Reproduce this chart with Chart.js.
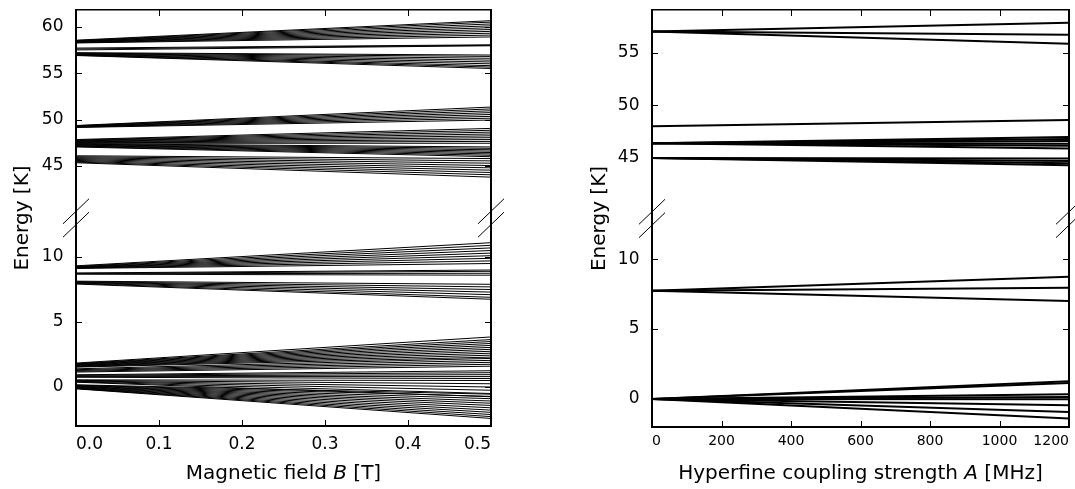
<!DOCTYPE html>
<html lang="en">
<head>
<meta charset="UTF-8">
<title>Energy levels vs magnetic field and hyperfine coupling</title>
<script src="https://cdn.jsdelivr.net/npm/chart.js"></script>
<style>
  html, body { margin: 0; padding: 0; background: #fff; overflow: hidden; }
  .panel { position: absolute; top: 0; height: 489px; }
  #left { left: 0; width: 537px; }
  #right { left: 537px; width: 538px; }
</style>
</head>
<body>
<div class="panel" id="left"><canvas id="fieldChart"></canvas></div>
<div class="panel" id="right"><canvas id="couplingChart"></canvas></div>
<script>
// ---- left panel: levels vs magnetic field B [T] (energy at B = 0 and at B = 0.5) ----
const fieldB = [0, 0.5];
const fieldTicks = [0, 0.1, 0.2, 0.3, 0.4, 0.5];
const fieldUpperTicks = [45, 50, 55, 60];
const fieldLowerTicks = [0, 5, 10];
const fieldUpperRange = [39.4, 61.8];
const fieldLowerRange = [-3, 13];

const fieldUpperStart = [
  58.25, 58.28, 58.31, 58.34, 58.37, 58.4, 58.43, 58.46, 58.5, 58.55,
  57.5, 57.6, 57.7,
  56.9, 56.93, 56.97, 57.0, 57.04, 57.08, 57.12, 57.16, 57.2,
  49.15, 49.18, 49.21, 49.24, 49.27, 49.3, 49.33, 49.36,
  47.45, 47.5, 47.55, 47.6, 47.65, 47.7, 47.75, 47.8, 47.85,
  47.4, 47.35, 47.3, 47.25, 47.2, 47.15, 47.1, 47.05,
  46.1, 46.0, 45.9, 45.8, 45.7, 45.6, 45.5, 45.42, 45.35
];
const fieldUpperEnd = [
  58.9, 59.1, 59.3, 59.5, 59.7, 59.9, 60.1, 60.3, 60.5, 60.65,
  57.95, 58.0, 58.05,
  55.5, 55.65, 55.8, 56.0, 56.2, 56.4, 56.6, 56.8, 56.95,
  49.95, 50.15, 50.35, 50.55, 50.75, 50.95, 51.15, 51.35,
  47.45, 47.65, 47.85, 48.05, 48.25, 48.45, 48.65, 48.85, 49.05,
  47.05, 46.9, 46.75, 46.6, 46.45, 46.3, 46.15, 46.0,
  45.8, 45.55, 45.3, 45.05, 44.8, 44.55, 44.3, 44.05, 43.8
];
const fieldLowerStart = [
  9.12, 9.14, 9.16, 9.18, 9.2, 9.22, 9.25, 9.28, 9.32,
  8.68, 8.71, 8.74, 8.77,
  7.92, 7.96, 8.0, 8.04, 8.07, 8.1, 8.14,
  1.53, 1.56, 1.59, 1.62, 1.65, 1.68, 1.71, 1.74, 1.77, 1.8, 1.84,
  1.15, 1.21, 1.27, 1.33, 1.4,
  0.94, 0.9, 0.85, 0.8, 0.75,
  0.55, 0.51, 0.47, 0.44, 0.4, 0.37,
  0.17, 0.14, 0.11, 0.08, 0.05, 0.02, -0.01, -0.04, -0.07, -0.1, -0.12, -0.14
];
const fieldLowerEnd = [
  9.5, 9.7, 9.9, 10.1, 10.3, 10.5, 10.7, 10.9, 11.1,
  8.6, 8.75, 8.9, 9.0,
  6.75, 6.9, 7.1, 7.3, 7.5, 7.7, 7.9,
  2.3, 2.45, 2.6, 2.75, 2.9, 3.05, 3.2, 3.35, 3.5, 3.65, 3.85,
  1.6, 1.75, 1.9, 2.05, 2.2,
  1.25, 1.1, 0.95, 0.8, 0.65,
  0.5, 0.25, 0.0, -0.25, -0.5, -0.75,
  -0.55, -0.72, -0.9, -1.08, -1.25, -1.42, -1.6, -1.78, -1.95, -2.12, -2.28, -2.42
];

// ---- right panel: levels vs hyperfine coupling A [MHz] (energy at A = 0 and at A = 1200) ----
const couplingA = [0, 1200];
const couplingTicks = [0, 200, 400, 600, 800, 1000, 1200];
const couplingUpperTicks = [45, 50, 55];
const couplingLowerTicks = [0, 5, 10];
const couplingUpperRange = [39.25, 59.05];
const couplingLowerRange = [-2, 12.9];

const couplingUpperStart = [57.0, 57.0, 57.0, 48.0, 46.4, 46.4, 46.4, 46.4, 46.4, 46.4, 45.0, 45.0, 45.0, 45.0];
const couplingUpperEnd   = [57.85, 56.7, 55.85, 48.6, 47.0, 46.8, 46.6, 46.35, 46.15, 45.9, 44.95, 44.7, 44.5, 44.3];
const couplingLowerStart = [7.73, 7.73, 7.73, 0, 0, 0, 0, 0, 0, 0, 0];
const couplingLowerEnd   = [8.74, 7.95, 7.0, 1.27, 1.15, 0.34, 0.15, -0.02, -0.45, -0.93, -1.4];

Chart.defaults.font.family = "'DejaVu Sans', sans-serif";
Chart.defaults.color = '#000';

function lineSets(xs, starts, ends, axisId, width) {
  return starts.map((s, i) => ({
    data: [{ x: xs[0], y: s }, { x: xs[1], y: ends[i] }],
    xAxisID: 'x',
    yAxisID: axisId,
    borderColor: '#000',
    borderWidth: width,
    pointRadius: 0,
    tension: 0
  }));
}

// inward tick marks, titles (with italic symbol) and the axis-break marks
const decorations = {
  id: 'decorations',
  afterDraw(chart, args, opts) {
    const { ctx, chartArea } = chart;
    ctx.save();
    ctx.strokeStyle = '#000';
    ctx.lineWidth = 1;

    Object.values(chart.scales).forEach(s => {
      s.ticks.forEach(t => {
        const p = Math.round(s.getPixelForValue(t.value)) + 0.5;
        ctx.beginPath();
        if (s.position === 'bottom') { ctx.moveTo(p, s.top); ctx.lineTo(p, s.top - 6); }
        else if (s.position === 'top') { ctx.moveTo(p, s.bottom); ctx.lineTo(p, s.bottom + 6); }
        else if (s.position === 'left') { ctx.moveTo(s.right, p); ctx.lineTo(s.right + 6, p); }
        else { ctx.moveTo(s.left, p); ctx.lineTo(s.left - 6, p); }
        ctx.stroke();
      });
    });

    const split = chart.scales.yTop.bottom;
    [chartArea.left, chartArea.right].forEach(x => {
      [-6.7, 6.7].forEach(dy => {
        ctx.beginPath();
        ctx.moveTo(x - 13, split + dy + 12.5);
        ctx.lineTo(x + 13, split + dy - 12.5);
        ctx.stroke();
      });
    });

    ctx.fillStyle = '#000';
    ctx.textBaseline = 'middle';
    const normal = "20px 'DejaVu Sans'";
    const italic = "italic 20px 'DejaVu Sans'";
    const parts = opts.xTitle.map((t, i) => ({ t, f: i === 1 ? italic : normal }));
    let total = 0;
    parts.forEach(p => { ctx.font = p.f; p.w = ctx.measureText(p.t).width; total += p.w; });
    let x = (chartArea.left + chartArea.right) / 2 - total / 2;
    ctx.textAlign = 'left';
    parts.forEach(p => { ctx.font = p.f; ctx.fillText(p.t, x, opts.xTitleY); x += p.w; });

    ctx.translate(opts.yTitleX, (chartArea.top + chartArea.bottom) / 2);
    ctx.rotate(-Math.PI / 2);
    ctx.font = normal;
    ctx.textAlign = 'center';
    ctx.fillText(opts.yTitle, 0, 0);
    ctx.restore();
  }
};

function buildScales(p) {
  const grid = { display: false, drawTicks: false };
  const border = { color: '#000', width: 2 };
  const fixTicks = list => s => { s.ticks = list.map(v => ({ value: v })); };
  const noPad = s => { s.paddingLeft = 0; s.paddingRight = 0; s.paddingTop = 0; s.paddingBottom = 0; };
  const yTicks = { padding: 12.5, font: { size: 17 } };
  return {
    x: {
      type: 'linear', position: 'bottom', min: p.xRange[0], max: p.xRange[1],
      afterBuildTicks: fixTicks(p.xTicks),
      ticks: { align: 'inner', maxRotation: 0, autoSkip: false, padding: p.xPad,
               font: { size: p.xFont }, callback: p.xFormat },
      grid, border,
      afterFit: s => { noPad(s); s.height = p.bottom; }
    },
    xTop: {
      type: 'linear', position: 'top', min: p.xRange[0], max: p.xRange[1],
      afterBuildTicks: fixTicks(p.xTicks),
      ticks: { display: false },
      grid, border: { color: '#000', width: 1.5 },
      afterFit: s => { noPad(s); s.height = p.top; }
    },
    yTop: {
      type: 'linear', axis: 'y', position: 'left', stack: 'left', stackWeight: 1, weight: 2,
      min: p.upper[0], max: p.upper[1], afterBuildTicks: fixTicks(p.upperTicks),
      ticks: yTicks, grid, border,
      afterFit: s => { noPad(s); s.width = p.left; }
    },
    yBottom: {
      type: 'linear', axis: 'y', position: 'left', stack: 'left', stackWeight: 1, weight: 1,
      min: p.lower[0], max: p.lower[1], afterBuildTicks: fixTicks(p.lowerTicks),
      ticks: yTicks, grid, border,
      afterFit: s => { noPad(s); s.width = p.left; }
    },
    yRightTop: {
      type: 'linear', axis: 'y', position: 'right', stack: 'right', stackWeight: 1, weight: 1,
      min: p.upper[0], max: p.upper[1], afterBuildTicks: fixTicks(p.upperTicks),
      ticks: { display: false }, grid, border,
      afterFit: s => { noPad(s); s.width = p.right; }
    },
    yRightBottom: {
      type: 'linear', axis: 'y', position: 'right', stack: 'right', stackWeight: 1, weight: 2,
      min: p.lower[0], max: p.lower[1], afterBuildTicks: fixTicks(p.lowerTicks),
      ticks: { display: false }, grid, border,
      afterFit: s => { noPad(s); s.width = p.right; }
    }
  };
}

function makeChart(id, datasets, p, deco) {
  return new Chart(document.getElementById(id), {
    type: 'line',
    data: { datasets },
    options: {
      responsive: true,
      maintainAspectRatio: false,
      animation: false,
      events: [],
      devicePixelRatio: 1,
      layout: { padding: 0, autoPadding: false },
      plugins: { legend: { display: false }, tooltip: { enabled: false }, decorations: deco },
      scales: buildScales(p)
    },
    plugins: [decorations]
  });
}

makeChart('fieldChart',
  [...lineSets(fieldB, fieldUpperStart, fieldUpperEnd, 'yTop', 1),
   ...lineSets(fieldB, fieldLowerStart, fieldLowerEnd, 'yBottom', 1)],
  { xRange: fieldB, xTicks: fieldTicks, xFont: 17, xPad: 8, xFormat: v => v.toFixed(1),
    upper: fieldUpperRange, lower: fieldLowerRange,
    upperTicks: fieldUpperTicks, lowerTicks: fieldLowerTicks,
    left: 76, right: 46, top: 10, bottom: 63 },
  { xTitle: ['Magnetic field ', 'B', ' [T]'], xTitleY: 474, yTitle: 'Energy [K]', yTitleX: 23 });

makeChart('couplingChart',
  [...lineSets(couplingA, couplingUpperStart, couplingUpperEnd, 'yTop', 2),
   ...lineSets(couplingA, couplingLowerStart, couplingLowerEnd, 'yBottom', 2)],
  { xRange: couplingA, xTicks: couplingTicks, xFont: 14, xPad: 6, xFormat: v => String(v),
    upper: couplingUpperRange, lower: couplingLowerRange,
    upperTicks: couplingUpperTicks, lowerTicks: couplingLowerTicks,
    left: 115, right: 6, top: 10, bottom: 62 },
  { xTitle: ['Hyperfine coupling strength ', 'A', ' [MHz]'], xTitleY: 474, yTitle: 'Energy [K]', yTitleX: 63 });
</script>
</body>
</html>
